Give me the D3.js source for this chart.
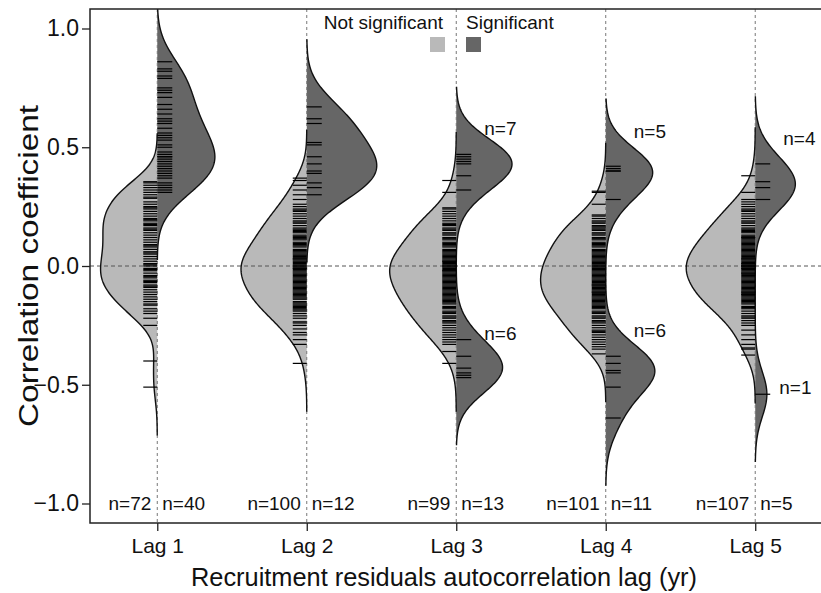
<!DOCTYPE html>
<html>
<head>
<meta charset="utf-8">
<script src="https://cdnjs.cloudflare.com/ajax/libs/d3/7.8.5/d3.min.js"></script>
<style>
  body { margin: 0; background: #fff; }
  svg { display: block; font-family: 'Liberation Sans', Arial, sans-serif; }
</style>
</head>
<body>
<div id="chart"></div>
<script>
// categories
const lags = ['Lag 1', 'Lag 2', 'Lag 3', 'Lag 4', 'Lag 5'];
const yTicks = [-1, -0.5, 0, 0.5, 1];

// correlation coefficients, not significant
const notSigLag1 = [0.355, 0.35, 0.34, 0.33, 0.32, 0.31, 0.30, 0.29, 0.285, 0.27, 0.26,
  0.25, 0.245, 0.24, 0.23, 0.22, 0.21, 0.20, 0.195, 0.19, 0.18, 0.175, 0.17, 0.16, 0.155,
  0.15, 0.14, 0.13, 0.12, 0.11, 0.10, 0.09, 0.085, 0.08, 0.07, 0.06, 0.055,
  0.05, 0.04, 0.03, 0.02, 0.01, 0.005, 0.00, -0.01, -0.015, -0.02, -0.03, -0.04, -0.045,
  -0.05, -0.06, -0.065, -0.07, -0.08, -0.085, -0.09, -0.10, -0.11, -0.12, -0.13, -0.14, -0.15,
  -0.16, -0.165, -0.18, -0.19, -0.20, -0.22, -0.25, -0.40, -0.51];
const notSigLag2 = [0.37, 0.36, 0.34, 0.32, 0.30, 0.28, 0.26,
  0.25, 0.24, 0.235, 0.23, 0.22, 0.21, 0.20, 0.19, 0.185, 0.18, 0.17, 0.16, 0.155,
  0.15, 0.145, 0.14, 0.13, 0.125, 0.12, 0.115, 0.11, 0.10, 0.095, 0.09, 0.085, 0.08, 0.07, 0.065, 0.06, 0.055, 0.05,
  0.045, 0.04, 0.035, 0.03, 0.025, 0.02, 0.015, 0.01, 0.005, 0.00, 0.00, -0.005, -0.01, -0.015, -0.02, -0.025,
  -0.03, -0.035, -0.04, -0.045, -0.05, 0.03, -0.01,
  -0.055, -0.06, -0.065, -0.07, -0.075, -0.08, -0.085, -0.09, -0.095, -0.10, -0.105, -0.11, -0.115, -0.12,
  -0.125, -0.13, -0.135, -0.14, -0.15,
  -0.155, -0.16, -0.165, -0.17, -0.175, -0.18, -0.185, -0.19, -0.20, -0.21, -0.22, -0.235, -0.24, -0.25,
  -0.265, -0.28, -0.29, -0.31, -0.33, -0.41];
const notSigLag3 = [0.36, 0.31, 0.245, 0.24,
  0.23, 0.22, 0.21, 0.20, 0.19, 0.18, 0.175, 0.17, 0.16, 0.155,
  0.15, 0.14, 0.135, 0.13, 0.12, 0.115, 0.11, 0.10, 0.095, 0.09, 0.085, 0.08, 0.07, 0.065, 0.06, 0.055, 0.05,
  0.045, 0.04, 0.035, 0.03, 0.025, 0.02, 0.015, 0.01, 0.005, 0.00, 0.00, -0.005, -0.01, -0.015, -0.02, -0.025,
  -0.03, -0.035, -0.04, -0.045, -0.05, 0.02, -0.02,
  -0.055, -0.06, -0.065, -0.07, -0.075, -0.08, -0.085, -0.09, -0.095, -0.10, -0.105, -0.11, -0.115, -0.12,
  -0.125, -0.13, -0.135, -0.14, -0.145, -0.15,
  -0.155, -0.16, -0.17, -0.175, -0.18, -0.19, -0.195, -0.20, -0.21, -0.215, -0.22, -0.23, -0.235, -0.24, -0.25,
  -0.26, -0.27, -0.28, -0.29, -0.30, -0.31, -0.32, -0.33, -0.36, -0.41];
const notSigLag4 = [0.315, 0.31, 0.26,
  0.215, 0.21, 0.20, 0.19, 0.185, 0.18, 0.17, 0.165, 0.16, 0.155,
  0.15, 0.14, 0.135, 0.13, 0.12, 0.115, 0.11, 0.10, 0.095, 0.09, 0.085, 0.08, 0.07, 0.065, 0.06, 0.055, 0.05,
  0.045, 0.04, 0.035, 0.03, 0.025, 0.02, 0.015, 0.01, 0.005, 0.00, 0.00, -0.005, -0.01, -0.015, -0.02, -0.025,
  -0.03, -0.035, -0.04, -0.045, -0.05,
  -0.055, -0.06, -0.065, -0.07, -0.075, -0.08, -0.085, -0.09, -0.095, -0.10, -0.105, -0.11, -0.115, -0.12,
  -0.125, -0.13, -0.135, -0.14, -0.145, -0.15, -0.08, -0.11,
  -0.155, -0.16, -0.165, -0.17, -0.175, -0.18, -0.19, -0.195, -0.20, -0.21, -0.215, -0.22, -0.23, -0.235,
  -0.24, -0.25,
  -0.26, -0.27, -0.275, -0.28, -0.29, -0.30, -0.31, -0.32, -0.33, -0.34, -0.35, -0.37];
const notSigLag5 = [0.38, 0.31, 0.28, 0.27, 0.26,
  0.25, 0.24, 0.235, 0.23, 0.22, 0.21, 0.20, 0.19, 0.185, 0.18, 0.17, 0.16, 0.155,
  0.15, 0.145, 0.14, 0.13, 0.125, 0.12, 0.115, 0.11, 0.105, 0.10, 0.095, 0.09, 0.085, 0.08, 0.075, 0.07,
  0.065, 0.06, 0.055, 0.05, 0.12,
  0.045, 0.04, 0.035, 0.03, 0.025, 0.02, 0.015, 0.01, 0.005, 0.00, 0.00, -0.005, -0.01, -0.015, -0.02, -0.025,
  -0.03, -0.035, -0.04, -0.045, -0.05, 0.03, 0.01, -0.01, -0.03, 0.00,
  -0.055, -0.06, -0.065, -0.07, -0.075, -0.08, -0.085, -0.09, -0.095, -0.10, -0.105, -0.11, -0.115, -0.12,
  -0.125, -0.13, -0.135, -0.14, -0.145, -0.15, -0.11, -0.12,
  -0.155, -0.16, -0.17, -0.175, -0.18, -0.19, -0.20, -0.21, -0.215, -0.22, -0.23, -0.24, -0.25,
  -0.27, -0.29, -0.31, -0.33, -0.345, -0.35, -0.375];

// correlation coefficients, significant
const sigLag1 = [0.86, 0.83, 0.82, 0.80, 0.79, 0.75, 0.74, 0.73, 0.71, 0.68,
  0.66, 0.64, 0.62, 0.61, 0.60, 0.58, 0.56, 0.55, 0.54, 0.53,
  0.51, 0.50, 0.48, 0.47, 0.46, 0.46, 0.45, 0.44, 0.43, 0.42,
  0.41, 0.40, 0.39, 0.38, 0.37, 0.35, 0.34, 0.33, 0.32, 0.31];
const sigLag2 = [0.67, 0.62, 0.60, 0.52, 0.51, 0.46, 0.43, 0.40, 0.39, 0.35, 0.33, 0.30];
const sigLag3 = [0.47, 0.46, 0.45, 0.44, 0.43, 0.38, 0.32, -0.31, -0.38, -0.43, -0.45, -0.46, -0.47];
const sigLag4 = [0.42, 0.41, 0.40, 0.40, 0.28, -0.38, -0.41, -0.44, -0.45, -0.51, -0.64];
const sigLag5 = [0.43, 0.355, 0.33, 0.28, -0.54];

const notSig = [notSigLag1, notSigLag2, notSigLag3, notSigLag4, notSigLag5];
const sig = [sigLag1, sigLag2, sigLag3, sigLag4, sigLag5];

// where the split counts of the significant beans are written (lag, y value, which side of zero)
const splitNotes = [
  { lag: 3, y: 0.58, upper: true }, { lag: 3, y: -0.28, upper: false },
  { lag: 4, y: 0.57, upper: true }, { lag: 4, y: -0.27, upper: false },
  { lag: 5, y: 0.54, upper: true }, { lag: 5, y: -0.51, upper: false }
];

class BeanPlot {
  constructor(_config) {
    this.config = {
      parentElement: _config.parentElement,
      width: 821,
      height: 593,
      box: { left: 90, right: 822.5, top: 9, bottom: 523 },
      bwNotSig: 0.068,
      bwSig: 0.095,
      halfWidth: 69,
      grownage: 10
    };
    this.initVis();
  }

  initVis() {
    const vis = this;
    const b = vis.config.box;

    vis.svg = d3.select(vis.config.parentElement).append('svg')
      .attr('width', vis.config.width)
      .attr('height', vis.config.height);

    vis.x = d3.scaleLinear().domain([0.55, 5.45]).range([b.left, b.right]);
    vis.y = d3.scaleLinear().domain([-1, 1]).range([503.5, 28.5]);

    vis.svg.append('clipPath').attr('id', 'clip')
      .append('rect')
      .attr('x', b.left).attr('y', b.top)
      .attr('width', b.right - b.left).attr('height', b.bottom - b.top);

    vis.plot = vis.svg.append('g').attr('clip-path', 'url(#clip)');
    vis.renderVis();
  }

  // gaussian density, cut 3 bandwidths past the data, small beans shrunk
  kde(values, bw) {
    const vis = this;
    const lo = d3.min(values) - 3 * bw;
    const hi = d3.max(values) + 3 * bw;
    const grow = Math.min(1, values.length / vis.config.grownage);
    const k = grow / (Math.sqrt(2 * Math.PI) * bw * values.length);
    const steps = 300;
    return d3.range(steps + 1).map(i => {
      const v = lo + (hi - lo) * i / steps;
      return [v, k * d3.sum(values, d => Math.exp(-0.5 * ((v - d) / bw) ** 2))];
    });
  }

  renderVis() {
    const vis = this;
    const b = vis.config.box;

    const densNS = notSig.map(v => vis.kde(v, vis.config.bwNotSig));
    const densS = sig.map(v => vis.kde(v, vis.config.bwSig));

    const wNS = d3.scaleLinear()
      .domain([0, d3.max(densNS, d => d3.max(d, p => p[1]))])
      .range([0, vis.config.halfWidth]);
    const wS = d3.scaleLinear()
      .domain([0, d3.max(densS, d => d3.max(d, p => p[1]))])
      .range([0, vis.config.halfWidth + 1]);

    // fills
    densNS.forEach((dens, i) => {
      const cx = vis.x(i + 1);
      vis.plot.append('path')
        .datum(dens)
        .attr('fill', '#b9b9b9')
        .attr('d', d3.area().y(d => vis.y(d[0])).x0(d => cx - wNS(d[1])).x1(cx));
    });
    densS.forEach((dens, i) => {
      const cx = vis.x(i + 1);
      vis.plot.append('path')
        .datum(dens)
        .attr('fill', '#666666')
        .attr('d', d3.area().y(d => vis.y(d[0])).x0(cx).x1(d => cx + wS(d[1])));
    });

    // dashed reference lines
    vis.plot.selectAll('.vref')
      .data(lags)
      .join('line')
      .attr('class', 'vref')
      .attr('x1', (d, i) => vis.x(i + 1)).attr('x2', (d, i) => vis.x(i + 1))
      .attr('y1', b.top).attr('y2', b.bottom)
      .attr('stroke', '#777').attr('stroke-width', 1)
      .attr('stroke-dasharray', '3,3');

    vis.plot.append('line')
      .attr('x1', b.left).attr('x2', b.right)
      .attr('y1', vis.y(0)).attr('y2', vis.y(0))
      .attr('stroke', '#555').attr('stroke-width', 1)
      .attr('stroke-dasharray', '4,3');

    // outlines
    densNS.forEach((dens, i) => {
      const cx = vis.x(i + 1);
      vis.plot.append('path')
        .datum(dens)
        .attr('fill', 'none').attr('stroke', '#111').attr('stroke-width', 1.4)
        .attr('d', d3.line().y(d => vis.y(d[0])).x(d => cx - wNS(d[1])));
    });
    densS.forEach((dens, i) => {
      const cx = vis.x(i + 1);
      vis.plot.append('path')
        .datum(dens)
        .attr('fill', 'none').attr('stroke', '#111').attr('stroke-width', 1.4)
        .attr('d', d3.line().y(d => vis.y(d[0])).x(d => cx + wS(d[1])));
    });

    // rug lines
    notSig.forEach((vals, i) => {
      const cx = vis.x(i + 1);
      vis.plot.append('g').selectAll('line')
        .data(vals)
        .join('line')
        .attr('x1', cx - 14).attr('x2', cx)
        .attr('y1', d => vis.y(d)).attr('y2', d => vis.y(d))
        .attr('stroke', '#000').attr('stroke-width', 1.2);
    });
    sig.forEach((vals, i) => {
      const cx = vis.x(i + 1);
      vis.plot.append('g').selectAll('line')
        .data(vals)
        .join('line')
        .attr('x1', cx).attr('x2', cx + 15)
        .attr('y1', d => vis.y(d)).attr('y2', d => vis.y(d))
        .attr('stroke', '#000').attr('stroke-width', 1.2);
    });

    // sample sizes along the bottom
    const nLabels = vis.svg.append('g').attr('font-size', 19).attr('fill', '#111');
    lags.forEach((lag, i) => {
      const cx = vis.x(i + 1);
      nLabels.append('text').attr('x', cx - 6).attr('y', 510)
        .attr('text-anchor', 'end').text(`n=${notSig[i].length}`);
      nLabels.append('text').attr('x', cx + 5).attr('y', 510)
        .attr('text-anchor', 'start').text(`n=${sig[i].length}`);
    });

    // split counts next to bimodal significant beans
    vis.svg.append('g').attr('font-size', 19).attr('fill', '#111')
      .selectAll('text')
      .data(splitNotes)
      .join('text')
      .attr('x', d => vis.x(d.lag) + (d.lag === 5 && !d.upper ? 24 : 28))
      .attr('y', d => vis.y(d.y) + 7)
      .text(d => {
        const vals = sig[d.lag - 1];
        return `n=${vals.filter(v => d.upper ? v > 0 : v < 0).length}`;
      });

    // legend
    const leg = vis.svg.append('g').attr('font-size', 19).attr('fill', '#111');
    leg.append('text').attr('x', 443).attr('y', 29).attr('text-anchor', 'end').text('Not significant');
    leg.append('text').attr('x', 466).attr('y', 29).text('Significant');
    leg.append('rect').attr('x', 430).attr('y', 37).attr('width', 15).attr('height', 15).attr('fill', '#b9b9b9');
    leg.append('rect').attr('x', 466).attr('y', 37).attr('width', 15).attr('height', 15).attr('fill', '#666666');

    // frame
    vis.svg.append('rect')
      .attr('x', b.left).attr('y', b.top)
      .attr('width', b.right - b.left).attr('height', b.bottom - b.top)
      .attr('fill', 'none').attr('stroke', '#222').attr('stroke-width', 1.5);

    // axes
    const yAxis = d3.axisLeft(vis.y).tickValues(yTicks).tickSize(8).tickPadding(3)
      .tickFormat(d3.format('.1f'));
    const yAxisG = vis.svg.append('g')
      .attr('transform', `translate(${b.left},0)`)
      .call(yAxis);
    yAxisG.select('.domain').remove();
    yAxisG.selectAll('text').attr('font-size', 23).attr('fill', '#111').attr('font-family', null);
    yAxisG.selectAll('line').attr('stroke', '#222').attr('stroke-width', 1.3);

    const xAxis = d3.axisBottom(vis.x).tickValues([1, 2, 3, 4, 5]).tickSize(8).tickPadding(7)
      .tickFormat((d, i) => lags[i]);
    const xAxisG = vis.svg.append('g')
      .attr('transform', `translate(0,${b.bottom})`)
      .call(xAxis);
    xAxisG.select('.domain').remove();
    xAxisG.selectAll('text').attr('font-size', 21).attr('fill', '#111').attr('font-family', null);
    xAxisG.selectAll('line').attr('stroke', '#222').attr('stroke-width', 1.3);

    // axis titles
    vis.svg.append('text')
      .attr('transform', `translate(38,${(b.top + b.bottom) / 2}) rotate(-90)`)
      .attr('text-anchor', 'middle')
      .attr('font-size', 27).attr('fill', '#111')
      .attr('textLength', 322).attr('lengthAdjust', 'spacingAndGlyphs')
      .text('Correlation coefficient');

    vis.svg.append('text')
      .attr('x', 444).attr('y', 586)
      .attr('text-anchor', 'middle')
      .attr('font-size', 26).attr('fill', '#111')
      .attr('textLength', 506).attr('lengthAdjust', 'spacingAndGlyphs')
      .text('Recruitment residuals autocorrelation lag (yr)');
  }
}

new BeanPlot({ parentElement: '#chart' });
</script>
</body>
</html>
